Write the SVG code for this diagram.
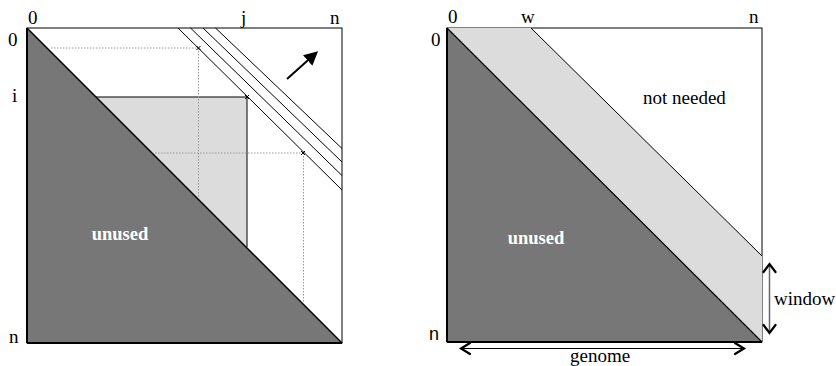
<svg xmlns="http://www.w3.org/2000/svg" width="836" height="366" viewBox="0 0 836 366">
<style>
.lbl{font-family:"Liberation Serif","Times New Roman",serif;font-size:19px;fill:#000}
.sans{font-family:"Liberation Sans",Arial,sans-serif;font-size:18px;fill:#000}
.un{font-family:"Liberation Serif","Times New Roman",serif;font-size:18.5px;font-weight:bold;fill:#fff;text-anchor:middle}
.dark{fill:#777777;stroke:none}
.light{fill:#dcdcdc;stroke:none}
.thin{stroke:#000;stroke-width:1;fill:none}
.dot{stroke:#9a9a9a;stroke-width:1;stroke-dasharray:1.5 1.5;fill:none}
.xm{stroke:#000;stroke-width:1}
.chev{stroke:#000;stroke-width:2.2;fill:none;stroke-linecap:round;stroke-linejoin:miter}
</style>
<defs>
<marker id="ah" viewBox="0 0 10 10" refX="8" refY="5" markerWidth="7" markerHeight="7" orient="auto-start-reverse" markerUnits="strokeWidth">
<path d="M0,0 L10,5 L0,10 z" fill="#000"/>
</marker>
</defs>

<g id="left-panel">
<rect x="27" y="28" width="315" height="315" fill="#fff" stroke="#000" stroke-width="1"/>
<polygon class="light" points="96,97 247,97 247,247"/>
<polygon class="dark" points="27,28 342,343 27,343"/>
<line x1="27" y1="28" x2="342" y2="343" stroke="#000" stroke-width="1.5"/>
<line x1="27" y1="28" x2="27" y2="343" stroke="#000" stroke-width="2"/>
<line x1="27" y1="343" x2="342" y2="343" stroke="#000" stroke-width="2"/>
<polyline class="thin" points="96,97 247,97 247,247" stroke-width="1.3"/>
</g>

<g id="connectors">
<line class="dot" x1="51" y1="48" x2="198" y2="48"/>
<line class="dot" x1="198.5" y1="48" x2="198.5" y2="198"/>
<line class="dot" x1="155" y1="153" x2="303" y2="153"/>
<line class="dot" x1="303.5" y1="153" x2="303.5" y2="302"/>
<line class="thin" x1="178" y1="28" x2="342" y2="190"/>
<line class="thin" x1="190.5" y1="28" x2="342" y2="175.5"/>
<line class="thin" x1="203" y1="28" x2="342" y2="162"/>
<line class="thin" x1="215.5" y1="28" x2="342" y2="148.5"/>
<path class="xm" d="M196.5,46 L200.5,50 M200.5,46 L196.5,50"/>
<path class="xm" d="M245,95 L249,99 M249,95 L245,99"/>
<path class="xm" d="M301,151 L305,155 M305,151 L301,155"/>
<line x1="287" y1="79" x2="316" y2="53" stroke="#000" stroke-width="2" marker-end="url(#ah)"/>
<line x1="769.5" y1="266" x2="769.5" y2="331" stroke="#666" stroke-width="1.5"/>
<path class="chev" d="M763.5,272 L769.5,264 L775.5,272"/>
<path class="chev" d="M763.5,325 L769.5,333 L775.5,325"/>
<line x1="462" y1="348.5" x2="743" y2="348.5" stroke="#000" stroke-width="1.2"/>
<path class="chev" d="M470,343 L461,348.5 L470,354"/>
<path class="chev" d="M735,343 L744,348.5 L735,354"/>
</g>

<g id="left-labels">
<text class="lbl" x="28" y="24">0</text>
<text class="lbl" x="241" y="24">j</text>
<text class="lbl" x="330" y="24">n</text>
<text class="lbl" x="8" y="46">0</text>
<text class="lbl" x="12" y="102">i</text>
<text class="lbl" x="9" y="343">n</text>
<text class="un" x="120" y="240">unused</text>
</g>

<g id="right-panel">
<rect x="447" y="28" width="315" height="314" fill="#fff" stroke="#000" stroke-width="1"/>
<polygon class="light" points="447,28 531,28 762,256 762,342 447,342"/>
<polygon class="dark" points="447,28 762,342 447,342"/>
<line x1="447" y1="28" x2="762" y2="342" stroke="#000" stroke-width="1.2"/>
<line x1="531" y1="28" x2="762" y2="256" stroke="#000" stroke-width="1"/>
<line x1="447" y1="28" x2="447" y2="342" stroke="#000" stroke-width="2"/>
<line x1="447" y1="342" x2="762" y2="342" stroke="#000" stroke-width="2"/>
</g>

<g id="right-labels">
<text class="lbl" x="448" y="23">0</text>
<text class="lbl" x="521" y="23">w</text>
<text class="lbl" x="749" y="23">n</text>
<text class="lbl" x="431" y="46">0</text>
<text class="sans" x="429" y="340">n</text>
<text class="lbl" x="643" y="104">not needed</text>
<text class="un" x="536" y="244">unused</text>
<text class="lbl" x="774" y="305">window</text>
<text class="lbl" x="570" y="362">genome</text>
</g>
</svg>
